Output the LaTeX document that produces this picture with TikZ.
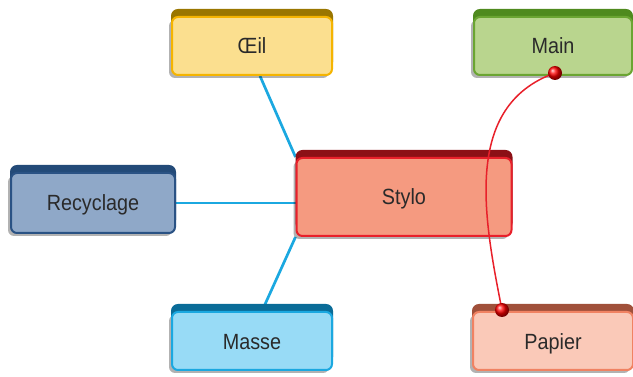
\documentclass[tikz,border=0pt]{standalone}
\usepackage{fontspec}
\usepackage{tikz}
\usepackage{xcolor}
\usetikzlibrary{shadows,backgrounds}
\newfontfamily\etiqfont{Liberation Sans}[FakeStretch=0.9]
\definecolor{oeilfond}{HTML}{FBDF8F}
\definecolor{oeilbord}{HTML}{F5B400}
\definecolor{oeilhaut}{HTML}{9A7600}
\definecolor{mainfond}{HTML}{B9D58E}
\definecolor{mainbord}{HTML}{6BA532}
\definecolor{mainhaut}{HTML}{4F8A1E}
\definecolor{stylofond}{HTML}{F59A80}
\definecolor{stylobord}{HTML}{E8202A}
\definecolor{stylohaut}{HTML}{8C1016}
\definecolor{recyfond}{HTML}{8FA8C8}
\definecolor{recybord}{HTML}{2A5284}
\definecolor{recyhaut}{HTML}{234A78}
\definecolor{massefond}{HTML}{98DBF6}
\definecolor{massebord}{HTML}{1BA8E0}
\definecolor{massehaut}{HTML}{0A6C98}
\definecolor{papierfond}{HTML}{FAC9B8}
\definecolor{papierbord}{HTML}{F08262}
\definecolor{papierhaut}{HTML}{A0503A}
\definecolor{texte}{HTML}{2A2A2A}
\tikzset{
    boite/.style n args = {3}{rectangle, rounded corners=6pt, line width=2pt, fill=#1, draw=#2, text=texte, font=\etiqfont\fontsize{22}{24}\selectfont, text height=16pt, text depth=0pt, minimum width=160pt, minimum height=58pt, drop shadow={shadow xshift=-3pt, shadow yshift=-3pt, opacity=.3, fill=black}, copy shadow={shadow xshift=0pt, shadow yshift=7pt, fill=#3, draw=#3}},
    lien-bleu/.style = {draw=massebord, line width=2.7pt},
    lien-rouge/.style = {draw=stylobord, line width=1.5pt},
    bille/.style = {ball color=red},
}
\begin{document}
\begin{tikzpicture}[x=1pt, y=-1pt]
\useasboundingbox (0,0) rectangle (633,377);
\node [boite={oeilfond}{oeilbord}{oeilhaut}] (oeil) at (252,46) {Œil};
\node [boite={mainfond}{mainbord}{mainhaut}, minimum width=158pt] (main) at (553,46) {Main};
\node [boite={stylofond}{stylobord}{stylohaut}, minimum width=215pt, minimum height=78pt] (stylo) at (404,197) {Stylo};
\node [boite={recyfond}{recybord}{recyhaut}, minimum width=164pt, minimum height=60pt] (recyclage) at (93,203) {Recyclage};
\node [boite={massefond}{massebord}{massehaut}] (masse) at (252,341) {Masse};
\node [boite={papierfond}{papierbord}{papierhaut}] (papier) at (553,341) {Papier};
\begin{scope}[on background layer]
\draw [lien-bleu] ([xshift=8pt]oeil.south) -- (stylo.north west);
\draw [lien-bleu] (recyclage.east) -- (recyclage.east -| stylo.west);
\draw [lien-bleu] ([xshift=10pt]masse.north) -- (stylo.south west);
\end{scope}
\coordinate (pm) at ([xshift=2pt, yshift=3pt]main.south);
\coordinate (pp) at ([xshift=30pt, yshift=1pt]papier.north west);
\draw [lien-rouge] (pm) .. controls +(-93,33) and +(-18,-91) .. (pp);
\shade [bille] (pm) circle (7pt);
\shade [bille] (pp) circle (7pt);
\end{tikzpicture}
\end{document}
